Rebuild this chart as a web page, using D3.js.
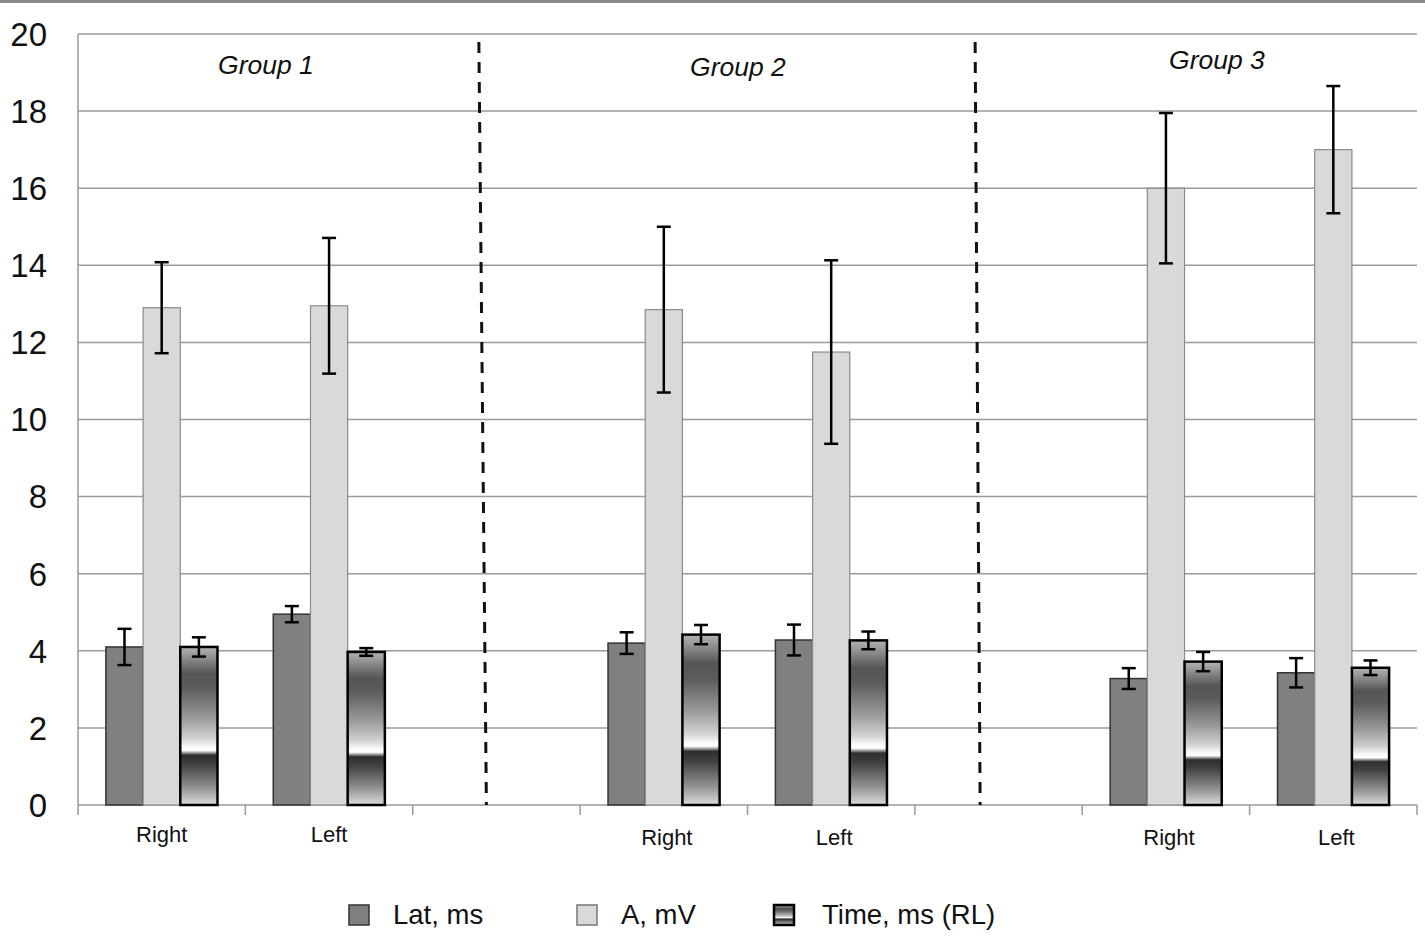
<!DOCTYPE html>
<html>
<head>
<meta charset="utf-8">
<script src="https://cdn.jsdelivr.net/npm/d3@7"></script>
<style>
  html, body { margin: 0; padding: 0; background: #fff; }
  svg { display: block; font-family: Arial, "Liberation Sans", sans-serif; }
</style>
</head>
<body>
<div id="root"></div>
<script>
// categories along the x axis (gap = empty spacer between groups)
const categories = ['g1R', 'g1L', 'gap1', 'g2R', 'g2L', 'gap2', 'g3R', 'g3L'];
const categoryLabels = ['Right', 'Left', '', 'Right', 'Left', '', 'Right', 'Left'];
const groupNames = ['Group 1', 'Group 2', 'Group 3'];
const series = ['lat', 'amp', 'time'];
const seriesLabels = ['Lat, ms', 'A, mV', 'Time, ms (RL)'];
const yTicks = [0, 2, 4, 6, 8, 10, 12, 14, 16, 18, 20];

// values per bar category (Right/Left for each group)
const barCats = ['g1R', 'g1L', 'g2R', 'g2L', 'g3R', 'g3L'];
const latValues = [4.10, 4.95, 4.20, 4.28, 3.28, 3.43];
const latErrors = [0.47, 0.21, 0.28, 0.40, 0.27, 0.38];
const ampValues = [12.90, 12.95, 12.85, 11.75, 16.00, 17.00];
const ampErrors = [1.18, 1.76, 2.15, 2.38, 1.95, 1.65];
const timeValues = [4.10, 3.97, 4.42, 4.27, 3.72, 3.56];
const timeErrors = [0.25, 0.10, 0.25, 0.23, 0.25, 0.19];

const width = 1425, height = 936;
const margin = { left: 78, right: 8, top: 34, bottom: 131 };

const svg = d3.select('#root').append('svg')
  .attr('width', width)
  .attr('height', height)
  .attr('viewBox', [0, 0, width, height]);

// gradient used for the "Time" bars
const grad = svg.append('defs').append('linearGradient')
  .attr('id', 'timeGrad')
  .attr('x1', 0).attr('y1', 0).attr('x2', 0).attr('y2', 1);
[[0, '#b4b4b4'], [0.17, '#555'], [0.26, '#5c5c5c'], [0.45, '#9a9a9a'], [0.58, '#d2d2d2'],
 [0.63, '#f8f8f8'], [0.655, '#ffffff'], [0.685, '#2e2e2e'], [0.74, '#404040'],
 [0.88, '#8c8c8c'], [1, '#dcdcdc']]
  .forEach(([o, c]) => grad.append('stop').attr('offset', o).attr('stop-color', c));

// top border strip of the picture
svg.append('rect').attr('x', 0).attr('y', 0).attr('width', width).attr('height', 3).attr('fill', '#8a8a8a');

const x = d3.scaleBand().domain(categories).range([margin.left, width - margin.right]);
const xs = d3.scaleBand().domain(series).range([0, x.bandwidth()]).paddingOuter(0.75);
const y = d3.scaleLinear().domain([0, 20]).range([height - margin.bottom, margin.top]);

// gridlines
svg.append('g')
  .selectAll('line')
  .data(yTicks)
  .join('line')
  .attr('x1', margin.left).attr('x2', width - margin.right)
  .attr('y1', (d) => y(d)).attr('y2', (d) => y(d))
  .attr('stroke', '#9a9a9a').attr('stroke-width', 1.5);

// left axis line
svg.append('line')
  .attr('x1', margin.left).attr('x2', margin.left)
  .attr('y1', y(20)).attr('y2', y(0) + 10)
  .attr('stroke', '#9a9a9a').attr('stroke-width', 1.5);

// y tick labels
svg.append('g')
  .selectAll('text')
  .data(yTicks)
  .join('text')
  .attr('x', 47)
  .attr('y', (d) => y(d))
  .attr('dy', '0.36em')
  .attr('text-anchor', 'end')
  .attr('font-size', 33)
  .attr('fill', '#111')
  .text((d) => d);

// category tick marks
const tickPos = categories.map((c) => x(c)).concat([x(categories[categories.length - 1]) + x.bandwidth()]);
svg.append('g')
  .selectAll('line')
  .data(tickPos.slice(1))
  .join('line')
  .attr('x1', (d) => d).attr('x2', (d) => d)
  .attr('y1', y(0)).attr('y2', y(0) + 10)
  .attr('stroke', '#9a9a9a').attr('stroke-width', 1.5);

// category labels
svg.append('g')
  .selectAll('text')
  .data(categories)
  .join('text')
  .attr('x', (d) => x(d) + x.bandwidth() / 2 + (d[1] === '1' ? 0 : 3))
  .attr('y', (d) => (d[1] === '1' ? 842 : 845))
  .attr('text-anchor', 'middle')
  .attr('font-size', 22)
  .attr('fill', '#111')
  .text((d, i) => categoryLabels[i]);

// dashed group dividers (slightly slanted like the scan)
const dividerTop = { gap1: 0.395, gap2: 0.36 };
const dividerBottom = { gap1: 0.44, gap2: 0.39 };
svg.append('g')
  .selectAll('line')
  .data(['gap1', 'gap2'])
  .join('line')
  .attr('x1', (d) => x(d) + dividerTop[d] * x.bandwidth())
  .attr('x2', (d) => x(d) + dividerBottom[d] * x.bandwidth())
  .attr('y1', 42).attr('y2', y(0))
  .attr('stroke', '#111').attr('stroke-width', 3)
  .attr('stroke-dasharray', '11 9');

// group titles
const groupLabelX = [266, 738, 1217];
const groupLabelY = [74, 76, 69];
svg.append('g')
  .selectAll('text')
  .data(groupNames)
  .join('text')
  .attr('x', (d, i) => groupLabelX[i])
  .attr('y', (d, i) => groupLabelY[i])
  .attr('text-anchor', 'middle')
  .attr('font-size', 26.5)
  .attr('font-style', 'italic')
  .attr('fill', '#111')
  .text((d) => d);

// bars
const seriesData = {
  lat: { values: latValues, errors: latErrors, fill: '#808080', stroke: '#333', sw: 1.5 },
  amp: { values: ampValues, errors: ampErrors, fill: '#d9d9d9', stroke: '#8a8a8a', sw: 1.2 },
  time: { values: timeValues, errors: timeErrors, fill: 'url(#timeGrad)', stroke: '#000', sw: 2.5 }
};

const bars = [];
series.forEach((s) => {
  barCats.forEach((c, i) => {
    bars.push({ cat: c, s, v: seriesData[s].values[i], e: seriesData[s].errors[i] });
  });
});

svg.append('g')
  .selectAll('rect')
  .data(bars)
  .join('rect')
  .attr('x', (d) => x(d.cat) + xs(d.s))
  .attr('y', (d) => y(d.v))
  .attr('width', xs.bandwidth())
  .attr('height', (d) => y(0) - y(d.v))
  .attr('fill', (d) => seriesData[d.s].fill)
  .attr('stroke', (d) => seriesData[d.s].stroke)
  .attr('stroke-width', (d) => seriesData[d.s].sw);

// error bars
const eg = svg.append('g')
  .selectAll('g')
  .data(bars)
  .join('g')
  .attr('transform', (d) => `translate(${x(d.cat) + xs(d.s) + xs.bandwidth() / 2},0)`)
  .attr('stroke', '#000')
  .attr('stroke-width', 2.5);
eg.append('line').attr('y1', (d) => y(d.v + d.e)).attr('y2', (d) => y(d.v - d.e));
eg.append('line').attr('x1', -7).attr('x2', 7).attr('y1', (d) => y(d.v + d.e)).attr('y2', (d) => y(d.v + d.e));
eg.append('line').attr('x1', -7).attr('x2', 7).attr('y1', (d) => y(d.v - d.e)).attr('y2', (d) => y(d.v - d.e));

// legend
const legendX = [349, 577, 774];
const legend = svg.append('g')
  .selectAll('g')
  .data(series)
  .join('g')
  .attr('transform', (d, i) => `translate(${legendX[i]},905)`);
legend.append('rect')
  .attr('width', 20).attr('height', 20)
  .attr('fill', (d) => seriesData[d].fill)
  .attr('stroke', (d) => (d === 'amp' ? '#777' : seriesData[d].stroke))
  .attr('stroke-width', (d) => (d === 'time' ? 2.5 : 1.5));
legend.append('text')
  .attr('x', (d, i) => (i === 2 ? 48 : 44))
  .attr('y', 19)
  .attr('font-size', 27.5)
  .attr('fill', '#111')
  .text((d, i) => seriesLabels[i]);
</script>
</body>
</html>
